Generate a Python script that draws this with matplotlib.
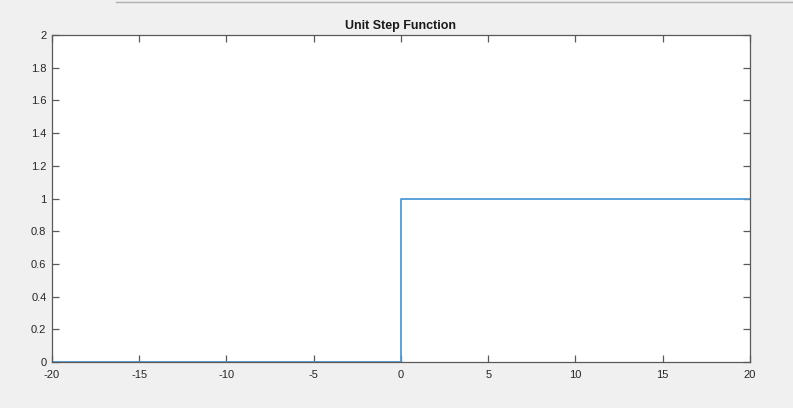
import matplotlib
matplotlib.use("Agg")
import matplotlib.pyplot as plt

# Unit step u(t): zero for t < 0, one for t >= 0
t = [-20, 0, 0, 20]
u = [0, 0, 1, 1]

x_ticks = [-20, -15, -10, -5, 0, 5, 10, 15, 20]
y_ticks = [0, 0.2, 0.4, 0.6, 0.8, 1, 1.2, 1.4, 1.6, 1.8, 2]
y_labels = ["0", "0.2", "0.4", "0.6", "0.8", "1", "1.2", "1.4", "1.6", "1.8", "2"]

plt.rcParams["font.family"] = ["Liberation Sans", "DejaVu Sans"]

fig = plt.figure(figsize=(7.93, 4.08), dpi=100, facecolor="#f0f0f0")
ax = fig.add_axes([0.0656, 0.1127, 0.880, 0.8015])
ax.set_facecolor("white")

ax.plot(t, u, color="#4d9ad6", linewidth=1.3)

ax.set_xlim(-20, 20)
ax.set_ylim(0, 2)
ax.set_xticks(x_ticks)
ax.set_xticklabels([str(v) for v in x_ticks])
ax.set_yticks(y_ticks)
ax.set_yticklabels(y_labels)

edge = "#5a5a5a"
for s in ax.spines.values():
    s.set_color(edge)
    s.set_linewidth(0.9)
ax.tick_params(direction="in", top=True, right=True, length=5, width=0.9,
               color=edge, labelcolor="#262626", labelsize=8)
ax.tick_params(axis="x", pad=6)
ax.tick_params(axis="y", pad=4)

ax.set_title("Unit Step Function", fontsize=9, fontweight="bold",
             color="#1a1a1a", pad=4)

# thin window edge along the top of the frame
fig.add_artist(plt.Line2D([0.146, 1.0], [0.995, 0.995], color="#b0b0b0",
                          linewidth=1.0, transform=fig.transFigure))

fig.savefig("out.png", dpi=100, facecolor=fig.get_facecolor())
